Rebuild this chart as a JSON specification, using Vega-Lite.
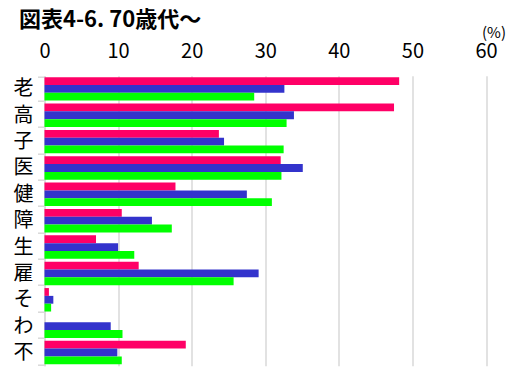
{
  "$schema": "https://vega.github.io/schema/vega-lite/v6.json",
  "width": 441.5,
  "height": 290,
  "autosize": {"type": "none"},
  "padding": {"left": 44.5, "top": 75.7, "right": 31, "bottom": 3.3},
  "background": "white",
  "title": {
    "text": "図表4-6. 70歳代～",
    "anchor": "start",
    "frame": "group",
    "font": "Noto Sans CJK JP",
    "fontSize": 22,
    "fontWeight": "bold",
    "color": "black",
    "dx": -25.5,
    "dy": 10,
    "offset": 4
  },
  "data": {
    "values": [
      {"item": "老", "series": "系列1", "pct": 48.2},
      {"item": "老", "series": "系列2", "pct": 32.6},
      {"item": "老", "series": "系列3", "pct": 28.5},
      {"item": "高", "series": "系列1", "pct": 47.5},
      {"item": "高", "series": "系列2", "pct": 33.9},
      {"item": "高", "series": "系列3", "pct": 32.9},
      {"item": "子", "series": "系列1", "pct": 23.7},
      {"item": "子", "series": "系列2", "pct": 24.4},
      {"item": "子", "series": "系列3", "pct": 32.5},
      {"item": "医", "series": "系列1", "pct": 32.1},
      {"item": "医", "series": "系列2", "pct": 35.1},
      {"item": "医", "series": "系列3", "pct": 32.2},
      {"item": "健", "series": "系列1", "pct": 17.8},
      {"item": "健", "series": "系列2", "pct": 27.5},
      {"item": "健", "series": "系列3", "pct": 30.9},
      {"item": "障", "series": "系列1", "pct": 10.5},
      {"item": "障", "series": "系列2", "pct": 14.6},
      {"item": "障", "series": "系列3", "pct": 17.3},
      {"item": "生", "series": "系列1", "pct": 7.0},
      {"item": "生", "series": "系列2", "pct": 10.0},
      {"item": "生", "series": "系列3", "pct": 12.2},
      {"item": "雇", "series": "系列1", "pct": 12.8},
      {"item": "雇", "series": "系列2", "pct": 29.1},
      {"item": "雇", "series": "系列3", "pct": 25.7},
      {"item": "そ", "series": "系列1", "pct": 0.6},
      {"item": "そ", "series": "系列2", "pct": 1.2},
      {"item": "そ", "series": "系列3", "pct": 0.9},
      {"item": "わ", "series": "系列1", "pct": 0},
      {"item": "わ", "series": "系列2", "pct": 9.0},
      {"item": "わ", "series": "系列3", "pct": 10.6},
      {"item": "不", "series": "系列1", "pct": 19.2},
      {"item": "不", "series": "系列2", "pct": 9.9},
      {"item": "不", "series": "系列3", "pct": 10.5}
    ]
  },
  "mark": {"type": "bar"},
  "encoding": {
    "y": {
      "field": "item",
      "type": "nominal",
      "sort": ["老", "高", "子", "医", "健", "障", "生", "雇", "そ", "わ", "不"],
      "scale": {"paddingInner": 0.11, "paddingOuter": 0.055},
      "axis": {
        "title": null,
        "domain": true,
        "domainColor": "#d9d9d9",
        "domainWidth": 1.5,
        "ticks": true,
        "tickBand": "extent",
        "tickColor": "#d9d9d9",
        "tickWidth": 1.5,
        "tickSize": 7,
        "labelPadding": 4.5,
        "labelFont": "Noto Sans CJK JP",
        "labelFontSize": 20,
        "labelColor": "black",
        "grid": false
      }
    },
    "yOffset": {"field": "series", "sort": ["系列1", "系列2", "系列3"]},
    "x": {
      "field": "pct",
      "type": "quantitative",
      "scale": {"domain": [0, 60], "nice": false},
      "axis": {
        "orient": "top",
        "values": [0, 10, 20, 30, 40, 50, 60],
        "domain": false,
        "ticks": false,
        "grid": true,
        "gridColor": "#d9d9d9",
        "gridWidth": 1.5,
        "labelFont": "Noto Sans CJK JP",
        "labelFontSize": 20,
        "labelColor": "black",
        "labelPadding": 14,
        "labelDx": -6,
        "labelFlush": false,
        "title": "(%)",
        "titleFont": "Noto Sans CJK JP",
        "titleFontSize": 15,
        "titleFontWeight": "normal",
        "titleColor": "black",
        "titleAlign": "right",
        "titleBaseline": "alphabetic",
        "titleX": 461,
        "titleY": -38
      }
    },
    "color": {
      "field": "series",
      "sort": ["系列1", "系列2", "系列3"],
      "scale": {"domain": ["系列1", "系列2", "系列3"], "range": ["#FF0066", "#3333CC", "#00FF00"]},
      "legend": null
    }
  },
  "config": {"view": {"stroke": null}}
}
